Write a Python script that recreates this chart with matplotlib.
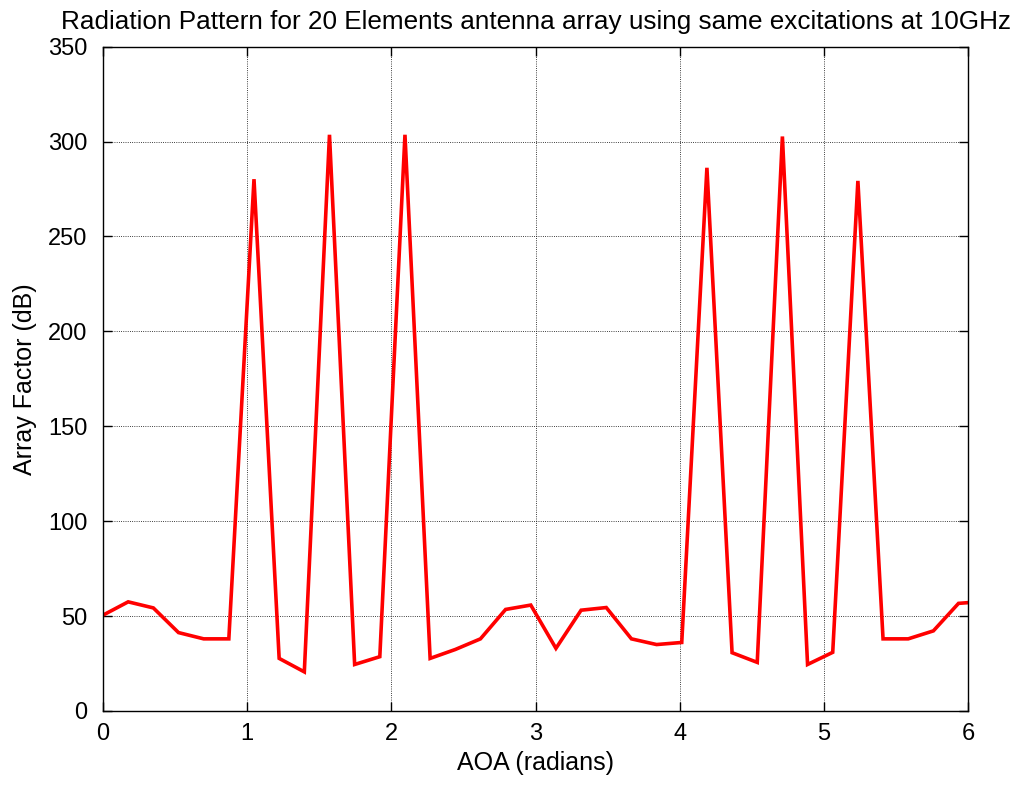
import numpy as np
import matplotlib as mpl
mpl.use("Agg")
import matplotlib.pyplot as plt

# angle of arrival samples, 10 degree steps (radians)
aoaDeg = [0, 10, 20, 30, 40, 50, 60, 70, 80, 90, 100, 110, 120, 130, 140, 150, 160, 170,
          180, 190, 200, 210, 220, 230, 240, 250, 260, 270, 280, 290, 300, 310, 320, 330, 340, 350]
arrayFactor = [50.5, 57.5, 54.3, 41.3, 38.0, 38.0, 280.2, 27.7, 20.6, 303.6, 24.5, 28.6,
               303.6, 27.7, 32.4, 38.0, 53.5, 55.8, 33.0, 53.1, 54.5, 38.0, 35.0, 36.1,
               286.2, 30.7, 25.6, 302.7, 24.5, 30.9, 279.3, 38.0, 38.0, 42.2, 56.7, 57.7]

xTicks = [0, 1, 2, 3, 4, 5, 6]
yTicks = [0, 50, 100, 150, 200, 250, 300, 350]

rc = {
    "font.family": ["Liberation Sans", "DejaVu Sans"],
    "font.size": 17,
    "xtick.direction": "in",
    "ytick.direction": "in",
    "xtick.major.size": 6.5,
    "ytick.major.size": 6.5,
    "xtick.major.width": 1.0,
    "ytick.major.width": 1.0,
    "axes.linewidth": 1.0,
}
mpl.rcParams.update(rc)

aoa = np.deg2rad(aoaDeg)

fig = plt.figure(figsize=(10.11, 7.85), dpi=100)
ax = fig.add_axes([0.1019, 0.0943, 0.8556, 0.8462])

ax.plot(aoa, arrayFactor, color="red", linewidth=2.6, solid_joinstyle="miter")
ax.set_xlim(0, 6)
ax.set_ylim(0, 350)
ax.set_xticks(xTicks)
ax.set_yticks(yTicks)
ax.xaxis.set_ticks_position("both")
ax.yaxis.set_ticks_position("both")
ax.tick_params(axis="x", labelsize=17, pad=9)
ax.tick_params(axis="y", labelsize=17, pad=11)
ax.grid(True, color="black", linestyle=":", linewidth=0.6)

ax.set_xlabel("AOA (radians)", fontsize=18, labelpad=4)
ax.set_ylabel("Array Factor (dB)", fontsize=18, labelpad=8)
ax.set_title("Radiation Pattern for 20 Elements antenna array using same excitations at 10GHz",
             fontsize=18.8, pad=13)

fig.savefig("out.png", dpi=100)
